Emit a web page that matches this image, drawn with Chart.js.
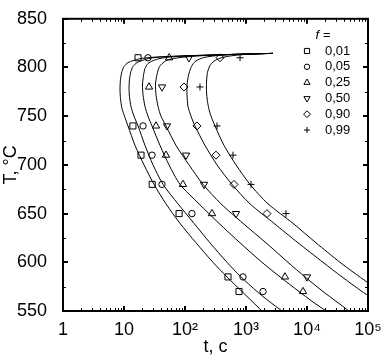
<!DOCTYPE html>
<html>
<head>
<meta charset="utf-8">
<script src="https://cdn.jsdelivr.net/npm/chart.js@4.4.1/dist/chart.umd.min.js"></script>
<style>
  html, body { margin: 0; padding: 0; background: #fff; }
</style>
</head>
<body>
<canvas id="myChart" width="385" height="360"></canvas>
<script>
"use strict";

// доли превращения f
const fLabels = ["0,01", "0,05", "0,25", "0,50", "0,90", "0,99"];

// экспериментальные точки [t, с ; T, °C]
const pts001 = [[17, 810], [14, 740], [19, 710], [29, 680], [80, 650], [507, 585], [768, 570]];
const pts005 = [[24.7, 810], [20.5, 740], [28.8, 710], [42, 680], [130, 650], [893, 585], [1900, 570]];
const pts025 = [[55, 810], [25.7, 780], [33.5, 740], [48.8, 710], [92.7, 680], [277, 650], [4358, 585], [8602, 570]];
const pts050 = [[116, 810], [42, 780], [50.7, 740], [104, 710], [205, 680], [686, 650], [10000, 585]];
const pts090 = [[375, 810], [96.3, 780], [157, 740], [322, 710], [636, 680], [2210, 650]];
const pts099 = [[798, 810], [176, 780], [335, 740], [612, 710], [1208, 680], [4526, 650]];

// расчётные кривые [t ; T]
const fit001 = [[2771, 814.5], [798, 813.5], [176, 812.3], [56.8, 811.3], [26.7, 810.3], [18.3, 809], [14.05, 807], [11.63, 805], [10, 801], [9.27, 796], [8.76, 788], [8.6, 778], [8.76, 768], [9.27, 758], [10.19, 750], [11.63, 740], [15.15, 720], [21.3, 700], [31, 680], [48.8, 660], [82.8, 640], [151.5, 620], [287.7, 600], [488, 585], [860, 570], [1254, 560], [1829, 550]];
const fit005 = [[2771, 814.5], [798, 813.6], [176, 812.5], [68.6, 811.6], [38.9, 810.8], [26.7, 809.5], [20.5, 807.5], [16.3, 805], [14.05, 801], [13.0, 796], [12.3, 788], [12.1, 778], [12.3, 770], [13.0, 760], [14.6, 750], [17.0, 740], [22.1, 720], [29.9, 700], [43.6, 680], [76.8, 660], [140.5, 640], [256.9, 620], [488, 600], [828, 585], [1515, 570], [2382, 560], [3892, 550]];
const fit025 = [[2771, 814.5], [798, 813.7], [256.9, 812.8], [100, 811.8], [56.8, 810.8], [38.9, 809.3], [29.9, 807], [24.7, 804], [22.1, 799], [20.9, 792], [20.1, 782], [20.5, 772], [22.1, 760], [24.7, 750], [28.8, 740], [38.9, 720], [54.7, 700], [82.8, 680], [169.6, 660], [360.9, 640], [798, 620], [1829, 600], [3610, 585], [7394, 570], [12078, 560], [20490, 550]];
const fit050 = [[2771, 814.5], [963, 813.8], [374.8, 813], [176.2, 812], [100, 810.8], [68.6, 809.5], [50.7, 807.5], [42, 804], [37.5, 800], [34.8, 793], [32.8, 783], [33.5, 772], [36.1, 760], [40.4, 750], [48.8, 740], [71.2, 720], [116.3, 700], [197.3, 680], [389.2, 660], [893, 640], [2128, 620], [4882, 600], [9273, 585], [18293, 570], [29880, 560], [48820, 550]];
const fit090 = [[2771, 814.5], [1163, 814], [546.6, 813.3], [310.3, 812], [212.8, 810.5], [163.4, 808], [140.5, 805], [125.4, 800], [114.1, 792], [107.8, 782], [107.8, 772], [112, 760], [125.4, 750], [145.8, 740], [212.8, 720], [334.7, 700], [589.5, 680], [1163, 660], [2877, 640], [7120, 620], [18293, 600], [37480, 585], [79720, 570], [100000, 566]];
const fit099 = [[2771, 814.5], [1404, 814], [797.5, 813], [507, 811.5], [374.8, 809.5], [298.8, 806.5], [256.9, 802], [233.9, 795], [225.2, 785], [225.2, 775], [233.9, 765], [247.4, 757], [266.8, 750], [310.3, 740], [435.9, 720], [685.7, 700], [1163, 680], [2295, 660], [5896, 640], [14045, 620], [34750, 600], [56780, 590], [100000, 579]];

// оси
const xMajor = [1, 10, 100, 1000, 10000, 100000];
const xTickText = ["1", "10", "10²", "10³", "10⁴", "10⁵"];
const yMajor = [550, 600, 650, 700, 750, 800, 850];
const yMinor = [575, 625, 675, 725, 775, 825];

const allPts = [pts001, pts005, pts025, pts050, pts090, pts099];
const allFits = [fit001, fit005, fit025, fit050, fit090, fit099];

// стили маркеров
const markers = [
    {style: "rect", radius: 4.3, rotation: 0},
    {style: "circle", radius: 3.2, rotation: 0},
    {style: "triangle", radius: 4.2, rotation: 0},
    {style: "triangle", radius: 4.2, rotation: 180},
    {style: "rectRot", radius: 4, rotation: 0},
    {style: "cross", radius: 3.5, rotation: 0}
];

const FONT = "'Liberation Sans', Arial, sans-serif";
Chart.defaults.color = "#000";
Chart.defaults.font.family = FONT;

const toXY = arr => arr.map(p => ({x: p[0], y: p[1]}));

let datasets = [];
allFits.forEach((fit, i) => {
    datasets.push({
        label: "fit " + fLabels[i],
        data: toXY(fit),
        showLine: true,
        borderColor: "#000",
        borderWidth: 1,
        pointRadius: 0,
        tension: 0.25,
        order: 2
    });
});
allPts.forEach((pts, i) => {
    datasets.push({
        label: fLabels[i],
        data: toXY(pts),
        showLine: false,
        pointStyle: markers[i].style,
        pointRadius: markers[i].radius,
        pointRotation: markers[i].rotation,
        borderColor: "#000",
        backgroundColor: "rgba(0,0,0,0)",
        pointBorderWidth: 1,
        order: 1
    });
});

// рамка и засечки внутрь
const frameTicks = {
    id: "frameTicks",
    afterDraw(chart) {
        const {ctx, chartArea: a, scales: {x, y}} = chart;
        ctx.save();
        ctx.strokeStyle = "#000";

        const vTick = (px, len, w) => {
            ctx.lineWidth = w;
            ctx.beginPath();
            ctx.moveTo(px, a.bottom); ctx.lineTo(px, a.bottom - len);
            ctx.moveTo(px, a.top); ctx.lineTo(px, a.top + len);
            ctx.stroke();
        };
        const hTick = (py, len, w) => {
            ctx.lineWidth = w;
            ctx.beginPath();
            ctx.moveTo(a.left, py); ctx.lineTo(a.left + len, py);
            ctx.moveTo(a.right, py); ctx.lineTo(a.right - len, py);
            ctx.stroke();
        };

        xMajor.forEach(v => vTick(Math.round(x.getPixelForValue(v)), 5, 2));
        for (let d = 1; d < 100000; d *= 10) {
            for (let m = 2; m <= 9; m++) {
                vTick(Math.round(x.getPixelForValue(d * m)) + 0.5, 3, 1);
            }
        }
        yMajor.forEach(v => hTick(Math.round(y.getPixelForValue(v)), 5, 2));
        yMinor.forEach(v => hTick(Math.round(y.getPixelForValue(v)) + 0.5, 3, 1));

        ctx.lineWidth = 2;
        ctx.strokeRect(a.left, a.top, a.right - a.left, a.bottom - a.top);
        ctx.restore();
    }
};

// легенда внутри поля графика
const fLegend = {
    id: "fLegend",
    afterDraw(chart) {
        const ctx = chart.ctx;
        const pointSets = chart.data.datasets.filter(d => !d.showLine);
        ctx.save();
        ctx.fillStyle = "#000";
        ctx.textBaseline = "middle";
        ctx.textAlign = "center";
        ctx.font = "italic 13px " + FONT;
        ctx.fillText("f =", 323, 35);
        ctx.textAlign = "left";
        ctx.font = "13px " + FONT;
        pointSets.forEach((ds, i) => {
            const yy = 51 + i * 15.8;
            ctx.strokeStyle = "#000";
            ctx.fillStyle = "rgba(0,0,0,0)";
            ctx.lineWidth = 1;
            Chart.helpers.drawPoint(ctx, {
                pointStyle: ds.pointStyle,
                radius: ds.pointRadius * 0.85,
                rotation: ds.pointRotation,
                borderWidth: 1
            }, 307, yy);
            ctx.fillStyle = "#000";
            ctx.fillText(ds.label, 325, yy);
        });
        ctx.restore();
    }
};

const ctx = document.getElementById("myChart");

let chart = new Chart(ctx, {
    type: "scatter",
    data: {datasets: datasets},
    options: {
        responsive: false,
        devicePixelRatio: 1,
        animation: false,
        layout: {padding: {top: 8, right: 17, left: 0, bottom: 0}},
        plugins: {
            legend: {display: false},
            tooltip: {enabled: false}
        },
        scales: {
            x: {
                type: "logarithmic",
                min: 1,
                max: 100000,
                afterBuildTicks: s => { s.ticks = xMajor.map(v => ({value: v})); },
                afterFit: s => { s.height = 49; },
                ticks: {
                    autoSkip: false,
                    maxRotation: 0,
                    padding: 0,
                    font: {size: 18},
                    callback: v => xTickText[xMajor.indexOf(v)]
                },
                grid: {display: false},
                border: {display: false},
                title: {display: true, text: "t, с", font: {size: 18}, padding: {top: 0, bottom: 2}}
            },
            y: {
                type: "linear",
                min: 550,
                max: 850,
                afterBuildTicks: s => { s.ticks = yMajor.map(v => ({value: v})); },
                afterFit: s => { s.width = 63; },
                ticks: {padding: 8, font: {size: 18}},
                grid: {display: false},
                border: {display: false},
                title: {display: true, text: "T, °C", font: {size: 18}, padding: {top: 0, bottom: 0}}
            }
        }
    },
    plugins: [frameTicks, fLegend]
});
</script>
</body>
</html>
